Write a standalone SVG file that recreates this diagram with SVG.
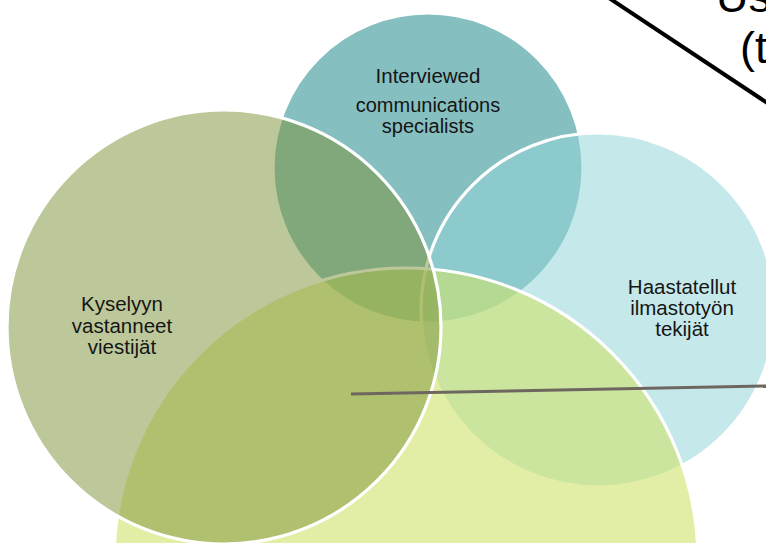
<svg xmlns="http://www.w3.org/2000/svg" width="766" height="543" viewBox="0 0 766 543">
<style>
.c{stroke:#fff;stroke-width:3.2}
.t{font-family:"Liberation Sans",Arial,sans-serif;font-size:20.5px;fill:#151515;text-anchor:middle}
.s{font-size:20px}
.big{font-family:"Liberation Sans",Arial,sans-serif;font-size:45px;fill:#000}
</style>
<rect width="766" height="543" fill="#fff"/>
<g id="node-interviewed">
<circle class="c" cx="428" cy="168" r="155" fill="rgb(134,191,192)"/>
</g>
<g id="node-haastatellut">
<circle class="c" cx="598" cy="310" r="177" fill="rgb(145,211,217)" fill-opacity="0.53"/>
</g>
<g id="node-bottom">
<circle class="c" cx="406" cy="560" r="292" fill="rgb(207,227,107)" fill-opacity="0.6"/>
</g>
<g id="node-kyselyyn">
<circle class="c" cx="224" cy="327" r="217" fill="rgb(123,145,53)" fill-opacity="0.5"/>
</g>
<g id="labels">
<text class="t" x="428" y="83">Interviewed</text>
<text class="t s" x="428" y="112">communications</text>
<text class="t s" x="428" y="133">specialists</text>
<text class="t" x="122" y="311">Kyselyyn</text>
<text class="t" x="122" y="333">vastanneet</text>
<text class="t" x="122" y="354">viestijät</text>
<text class="t" x="682" y="294">Haastatellut</text>
<text class="t" x="682" y="315">ilmastotyön</text>
<text class="t" x="682" y="336">tekijät</text>
</g>
<g id="connectors">
<line x1="351" y1="394" x2="766" y2="386" stroke="#6e675f" stroke-width="3"/>
<line x1="609" y1="-2" x2="790" y2="118" stroke="#000" stroke-width="4"/>
</g>
<g id="corner-label">
<text class="big" x="716" y="12">Us</text>
<text class="big" x="740" y="63">(t</text>
</g>
</svg>
